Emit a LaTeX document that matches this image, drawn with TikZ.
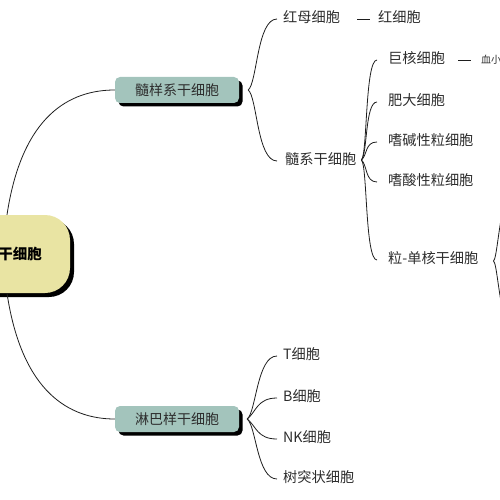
\documentclass[tikz,border=0pt]{standalone}
\usepackage{fontspec}
\setmainfont{Noto Sans CJK SC}
\usetikzlibrary{shadows,calc}
\definecolor{rootfill}{RGB}{233,228,163}
\definecolor{subfill}{RGB}{163,196,188}
\definecolor{linecol}{RGB}{30,30,30}
\definecolor{txtcol}{RGB}{45,45,45}
\begin{document}
\begin{tikzpicture}[x=1pt,y=-1pt,
  conn/.style={draw=linecol,line width=0.8pt},
  rootbox/.style={fill=rootfill,rounded corners=25pt,minimum height=78pt,text width=100pt,align=right,inner xsep=28pt,
     font=\fontsize{14.5}{17}\selectfont\bfseries,text=black,
     drop shadow={shadow xshift=4pt,shadow yshift=-4pt,fill=black,opacity=1}},
  subbox/.style={fill=subfill,rounded corners=5pt,minimum width=124pt,minimum height=26pt,inner sep=0pt,
     font=\fontsize{14}{16}\selectfont,text=txtcol,
     drop shadow={shadow xshift=3.5pt,shadow yshift=-3.5pt,fill=black,opacity=1}},
  leaf/.style={anchor=west,inner sep=0pt,font=\fontsize{14.2}{16}\selectfont,text=txtcol},
  tiny/.style={anchor=west,inner sep=0pt,font=\fontsize{10}{12}\selectfont,text=txtcol}]
\useasboundingbox (0,0) rectangle (500,500);
\clip (0,0) rectangle (500,500);

% main nodes
\node[rootbox] (root) at (-8,254) {干细胞};
\node[subbox] (myel) at (177,90) {髓样系干细胞};
\node[subbox] (lymph) at (177,419) {淋巴样干细胞};

% leaves
\node[leaf] (hm) at (283,17) {红母细胞};
\node[leaf] (hx) at (378,17) {红细胞};
\node[leaf] (sx) at (285,159) {髓系干细胞};
\node[leaf] (jh) at (388,58) {巨核细胞};
\node[tiny] (xx) at (481,60) {血小};
\node[leaf] (fd) at (388,100) {肥大细胞};
\node[leaf] (sj) at (388,140) {嗜碱性粒细胞};
\node[leaf] (ss) at (388,180) {嗜酸性粒细胞};
\node[leaf] (ld) at (388,258) {粒-单核干细胞};
\node[leaf] (tc) at (283,354) {T细胞};
\node[leaf] (bc) at (283,396) {B细胞};
\node[leaf] (nk) at (283,437) {NK细胞};
\node[leaf] (sz) at (283,477) {树突状细胞};

% junctions
\coordinate (j1) at ([xshift=9pt]myel.east);
\coordinate (j2) at ([shift={(5,1)}]sx.east);
\coordinate (j3) at ([shift={(15,3)}]ld.east);
\coordinate (j4) at ([xshift=8pt]lymph.east);
\coordinate (o1) at (540,150);
\coordinate (o2) at (540,370);

% root connectors
\draw[conn] ([xshift=15pt]root.north) .. controls (22,115) and (70,90) .. (myel.west);
\draw[conn] ([xshift=15pt]root.south) .. controls (22,393) and (70,419) .. (lymph.west);

% level 1 (myeloid)
\draw[conn] (j1) .. controls +(9,-7) and +(-20,0) .. ([shift={(-6,2)}]hm.west);
\draw[conn] (j1) .. controls +(9,7) and +(-20,0) .. ([shift={(-8,2)}]sx.west);

% level 2
\foreach \n in {jh,fd,sj}{
  \draw[conn] (j2) .. controls +(6,-5) and +(-12,0) .. ([shift={(-11,2)}]\n.west);
}
\foreach \n in {ss,ld}{
  \draw[conn] (j2) .. controls +(6,5) and +(-12,0) .. ([shift={(-11,2)}]\n.west);
}

% beyond the edge
\draw[conn] (j3) .. controls +(6,-5) and +(-40,0) .. (o1);
\draw[conn] (j3) .. controls +(6,5) and +(-40,0) .. (o2);

% lymph
\foreach \n in {tc,bc}{
  \draw[conn] (j4) .. controls +(9,-7) and +(-20,0) .. ([shift={(-6,2)}]\n.west);
}
\foreach \n in {nk,sz}{
  \draw[conn] (j4) .. controls +(9,7) and +(-20,0) .. ([shift={(-6,2)}]\n.west);
}

% dashes
\draw[conn,shorten <=17pt,shorten >=8pt] ([yshift=-2pt]hm.east) -- ([yshift=-2pt]hm.east -| hx.west);
\draw[conn,shorten <=13pt,shorten >=10pt] ([yshift=-2pt]jh.east) -- ([yshift=-2pt]jh.east -| xx.west);
\end{tikzpicture}
\end{document}
